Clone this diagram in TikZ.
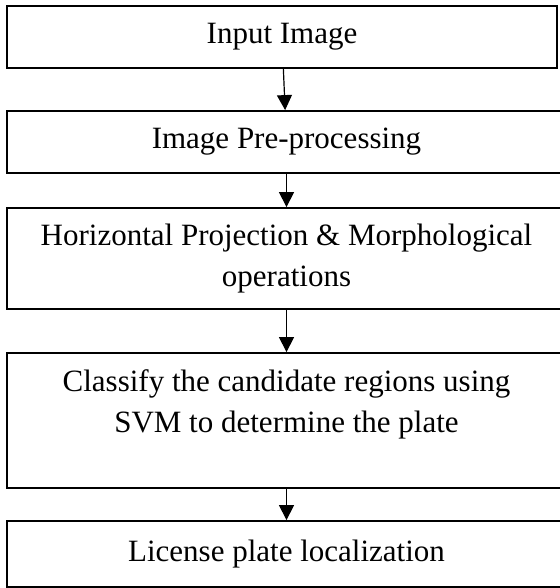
\documentclass[tikz,border=0pt]{standalone}
\usepackage{fontspec}
\setmainfont{Liberation Serif}
\usetikzlibrary{arrows.meta}
\tikzset{every node/.append style={align=center}}

\begin{document}
\begin{tikzpicture}[x=0.5pt, y=-0.5pt,
    stage/.style={draw, rectangle, line width=0.9pt, minimum width=279.5pt, inner sep=0pt, font=\fontsize{15.5}{20.5}\selectfont},
    flow/.style={-{Triangle[length=7.5pt, width=7.5pt]}, line width=0.6pt}]
    \useasboundingbox (0,0) rectangle (560,588);

    % Stages of the pipeline
    \node[stage, minimum width=275pt, minimum height=31pt] (input) at (282,37) {Input Image};
    \node[stage, minimum height=31pt] (prep) at (286.5,142) {Image Pre-processing};
    \node[stage, minimum height=50.5pt] (morph) at (286.5,258.5) {Horizontal Projection \& Morphological\\operations};
    \node[stage, minimum height=67.5pt, text depth=19.5pt] (svm) at (286.5,420.5) {Classify the candidate regions using\\SVM to determine the plate};
    \node[stage, minimum height=33pt] (plate) at (286.5,554) {License plate localization};

    % Flow arrows
    \draw[flow] (input) -- (prep);
    \draw[flow] (prep) -- (morph);
    \draw[flow] (morph) -- (svm);
    \draw[flow] (svm) -- (plate);
\end{tikzpicture}
\end{document}
